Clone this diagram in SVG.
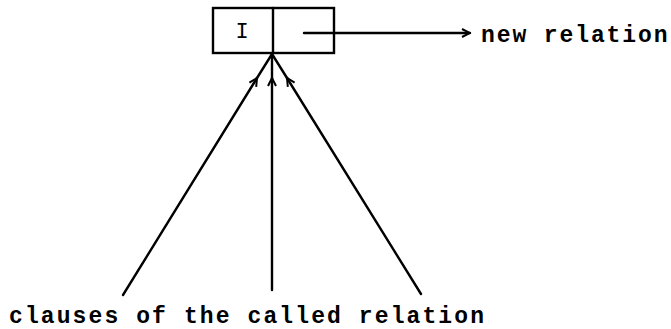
<svg xmlns="http://www.w3.org/2000/svg" width="671" height="329" viewBox="0 0 671 329">
  <style>
    .ln { fill: none; stroke: #000; stroke-width: 2.4; stroke-linecap: round; }
    .box { fill: #fff; stroke: #000; stroke-width: 2.4; }
    .tt { font-family: "Liberation Mono", "DejaVu Sans Mono", monospace; font-size: 23px; font-weight: bold; fill: #000; }
    .tn { font-weight: normal; font-size: 22px; }
  </style>
  <defs>
    <marker id="arr" viewBox="0 0 10 10" refX="9" refY="5" markerWidth="10" markerHeight="10" markerUnits="userSpaceOnUse" orient="auto">
      <path d="M1,1 L9,5 L1,9" fill="none" stroke="#000" stroke-width="2"/>
    </marker>
  </defs>
  <rect width="671" height="329" fill="#fff"/>

  <g id="node-box">
    <rect class="box" x="213" y="8" width="121" height="45"/>
    <line class="ln" x1="273" y1="8" x2="273" y2="53"/>
    <text class="tt tn" x="242" y="38" text-anchor="middle">I</text>
  </g>

  <g id="node-new-relation">
    <text class="tt" x="481" y="42" letter-spacing="1.9">new relation</text>
  </g>

  <g id="node-clauses">
    <text class="tt" x="9" y="323" letter-spacing="2.1">clauses of the called relation</text>
  </g>

  <g id="connectors">
    <path class="ln" d="M304,33 L470,33" marker-end="url(#arr)"/>
    <path class="ln" d="M123,295 L257,78" marker-end="url(#arr)"/>
    <path class="ln" d="M257,78 L272,54"/>
    <path class="ln" d="M272,290 L272,78" marker-end="url(#arr)"/>
    <path class="ln" d="M272,78 L272,54"/>
    <path class="ln" d="M421,294 L287,78" marker-end="url(#arr)"/>
    <path class="ln" d="M287,78 L272,54"/>
  </g>
</svg>
